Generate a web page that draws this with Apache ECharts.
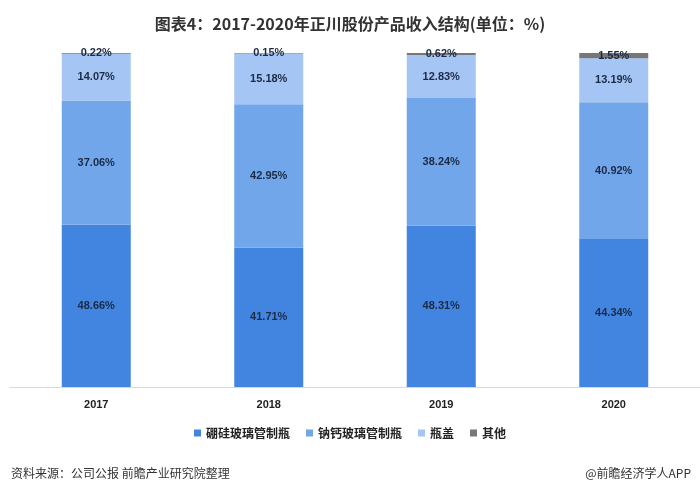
<!DOCTYPE html>
<html><head><meta charset="utf-8">
<script src="https://cdn.jsdelivr.net/npm/echarts@6/dist/echarts.min.js"></script>
<style>html,body{margin:0;padding:0;background:#fff}#c{width:700px;height:491px}</style>
</head><body><div id="c"></div>
<script>
const categories = ['2017', '2018', '2019', '2020'];
const borosilicate = [48.66, 41.71, 48.31, 44.34];
const sodaLime = [37.06, 42.95, 38.24, 40.92];
const caps = [14.07, 15.18, 12.83, 13.19];
const others = [0.22, 0.15, 0.62, 1.55];
const seriesNames = ['硼硅玻璃管制瓶', '钠钙玻璃管制瓶', '瓶盖', '其他'];
const colors = ['#4285e0', '#72a6eb', '#a5c5f4', '#777777'];

const chart = echarts.init(document.getElementById('c'), null, {renderer: 'canvas'});
const label = {show: true, position: 'inside', formatter: p => p.value.toFixed(2) + '%',
  color: '#1c2a44', fontSize: 11, fontWeight: 'bold', fontFamily: 'Liberation Sans, Arial, sans-serif'};
const datasets = [borosilicate, sodaLime, caps, others];
chart.setOption({
  animation: false,
  title: [{text: '图表4：2017-2020年正川股份产品收入结构(单位：%)', left: 'center', top: 11,
    textStyle: {fontSize: 16, fontWeight: 'bold', color: '#333', fontFamily: 'Noto Sans CJK SC'}},
    {text: '资料来源：公司公报 前瞻产业研究院整理', left: 6, top: 462,
    textStyle: {fontSize: 12, fontWeight: 'normal', color: '#333', fontFamily: 'Noto Sans CJK SC'}},
    {text: '@前瞻经济学人APP', right: 4, top: 462,
    textStyle: {fontSize: 12, fontWeight: 'normal', color: '#333', fontFamily: 'Noto Sans CJK SC'}}],
  legend: {data: seriesNames, top: 422, left: 'center', itemWidth: 7, itemHeight: 7, itemGap: 16,
    icon: 'rect', textStyle: {fontSize: 12, fontWeight: 'bold', color: '#222', fontFamily: 'Noto Sans CJK SC'}},
  grid: {left: 10, right: 0, top: 53, bottom: 104},
  xAxis: {type: 'category', data: categories,
    axisLine: {lineStyle: {color: '#d9d9d9'}}, axisTick: {show: false},
    axisLabel: {color: '#222', fontSize: 11, fontWeight: 'bold', margin: 12, fontFamily: 'Liberation Sans, Arial'}},
  yAxis: {type: 'value', min: 0, max: 100, show: false, splitLine: {show: false}},
  series: datasets.map((d, i) => ({
    name: seriesNames[i], type: 'bar', stack: 'total', data: d, barWidth: '40%',
    itemStyle: {color: colors[i]}, label: label
  }))
});
</script></body></html>
